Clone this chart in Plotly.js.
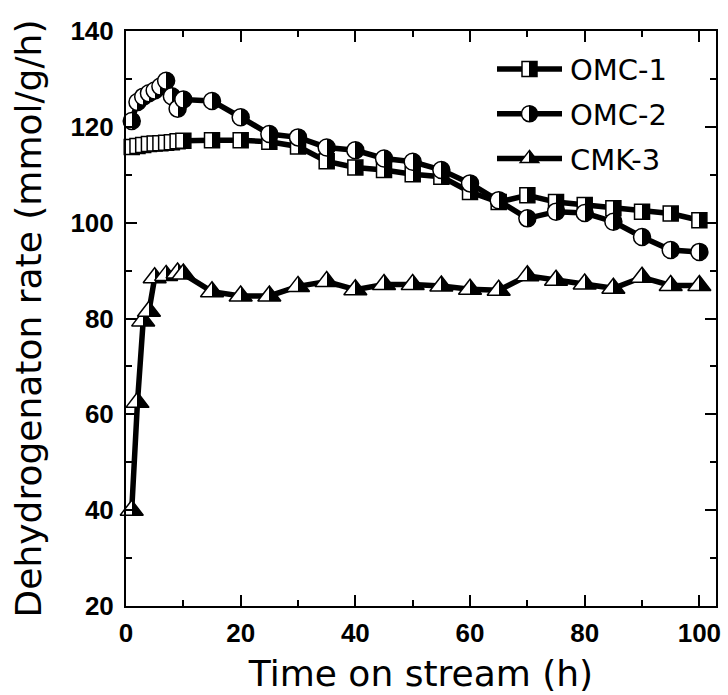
<!DOCTYPE html>
<html><head><meta charset="utf-8">
<script src="https://cdn.plot.ly/plotly-3.0.1.min.js"></script>
<style>html,body{margin:0;padding:0;background:#fff}#chart{width:728px;height:695px}</style>
</head><body><div id="chart"></div>
<script>
// ---- data ----
const omcTime = [1,2,3,4,5,6,7,8,9,10,15,20,25,30,35,40,45,50,55,60,65,70,75,80,85,90,95,100];
const omc1Rate = [115.8,116.0,116.2,116.4,116.5,116.6,116.7,116.8,117.0,117.1,117.2,117.2,116.9,115.9,112.8,111.5,111.0,110.1,109.6,106.4,104.3,105.7,104.3,103.7,103.0,102.3,101.9,100.5];
const omc2Rate = [121.2,125.2,126.3,127.0,127.6,128.4,129.6,126.4,123.8,125.7,125.4,122.0,118.5,117.8,115.7,115.1,113.4,112.7,111.0,108.2,104.7,100.9,102.3,102.0,100.2,97.0,94.3,93.9];
const cmkTime = [1,2,3,4,5,7,9,10,15,20,25,30,35,40,45,50,55,60,65,70,75,80,85,90,95,100];
const cmk3Rate = [40,62.5,79.5,81.5,88.5,89,89.5,89.3,85.6,84.7,84.7,86.7,87.7,86.0,87.1,87.1,86.8,86.1,85.9,88.9,88.0,87.2,86.3,88.6,86.9,86.9];
const seriesNames = ['OMC-1','OMC-2','CMK-3'];
const xTickVals = [0,20,40,60,80,100];
const yTickVals = [20,40,60,80,100,120,140];

function series(name, x, y, symbol, size){
  return {
    type:'scatter', mode:'lines+markers', name:name, x:x, y:y,
    line:{color:'#000', width:5.5},
    marker:{symbol:symbol, size:size, color:'#fff',
            gradient:{type:'horizontal', color:'#000'},
            line:{color:'#000', width:1.5}},
    legendgroup:name, cliponaxis:false
  };
}
const data = [
  series(seriesNames[0], omcTime, omc1Rate, 'square', 15),
  series(seriesNames[1], omcTime, omc2Rate, 'circle', 17),
  series(seriesNames[2], cmkTime, cmk3Rate, 'triangle-up', 20)
];

const tickFont = {family:'"Liberation Sans", Arial, sans-serif', size:26, color:'#000', weight:'bold'};
const titleFont = {family:'"DejaVu Sans", Verdana, sans-serif', size:36, color:'#000'};
const axisCommon = {
  showgrid:false, zeroline:false, showline:true, linecolor:'#000', linewidth:2,
  mirror:'ticks', ticks:'inside', ticklen:11, tickwidth:2, tickcolor:'#000',
  minor:{ticks:'inside', ticklen:6, tickwidth:2, tickcolor:'#000', dtick:10, showgrid:false},
  tickfont:tickFont, automargin:false
};
const layout = {
  width:728, height:695, autosize:false,
  margin:{l:126, r:12, t:31, b:89},
  paper_bgcolor:'#fff', plot_bgcolor:'#fff',
  showlegend:true,
  legend:{x:0.600, xanchor:'left', y:0.978, yanchor:'top', bgcolor:'rgba(0,0,0,0)',
          borderwidth:0, font:{family:'"DejaVu Sans", Verdana, sans-serif', size:29, color:'#000'},
          itemwidth:80, tracegroupgap:4, traceorder:'grouped'},
  xaxis:Object.assign({}, axisCommon, {range:[0,102.9], tickmode:'array', tickvals:xTickVals,
          ticklabelstandoff:3,
          title:{text:'Time on stream (h)', font:titleFont, standoff:14}}),
  yaxis:Object.assign({}, axisCommon, {range:[20,140], tickmode:'array', tickvals:yTickVals,
          ticklabelstandoff:5,
          title:{text:'Dehydrogenaton rate (mmol/g/h)', font:titleFont, standoff:18}})
};

function splitGradients(gd){
  const NS = 'http://www.w3.org/2000/svg';
  gd.querySelectorAll('linearGradient').forEach(g => {
    g.setAttribute('gradientUnits','objectBoundingBox');
    g.setAttribute('x1','0'); g.setAttribute('y1','0');
    g.setAttribute('x2','1'); g.setAttribute('y2','0');
    while (g.firstChild) g.removeChild(g.firstChild);
    [[0,'#fff'],[0.5,'#fff'],[0.5,'#000'],[1,'#000']].forEach(s => {
      const st = document.createElementNS(NS,'stop');
      st.setAttribute('offset', (s[0]*100)+'%');
      st.setAttribute('stop-color', s[1]);
      st.setAttribute('style','stop-color:'+s[1]+';stop-opacity:1');
      g.appendChild(st);
    });
  });
}
function widenLegend(gd){
  gd.querySelectorAll('g.legend g.traces').forEach(tr => {
    const txt = tr.querySelector('text.legendtext');
    let tx = txt ? parseFloat(txt.getAttribute('x')) : NaN;
    if (!isFinite(tx)) tx = 90;
    const a = tx - 73;
    const line = tr.querySelector('g.legendlines path');
    if (line) line.setAttribute('d', 'M' + a + ',0h65');
    tr.querySelectorAll('g.legendpoints path.scatterpts').forEach(p =>
      p.setAttribute('transform', 'translate(' + (a + 32.5) + ',0)'));
  });
}
const gd = document.getElementById('chart');
Plotly.newPlot(gd, data, layout, {staticPlot:true, displayModeBar:false}).then(() => {
  splitGradients(gd);
  widenLegend(gd);
});
</script>
</body></html>
